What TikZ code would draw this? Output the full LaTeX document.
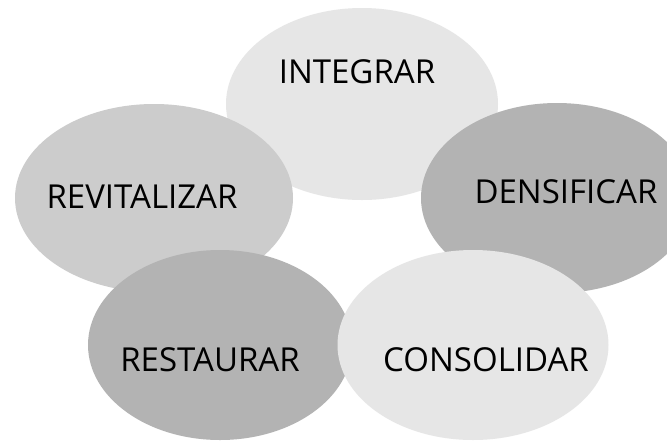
\documentclass[tikz,border=0pt]{standalone}
\usepackage{fontspec}
\setmainfont{Open Sans}
\usetikzlibrary{calc}
\usetikzlibrary{shapes.geometric}
\tikzset{
% Two styles: the grey ellipses and the words in them
blob/.style={ellipse,inner sep=0,minimum width=272,minimum height=192},
word/.style={inner sep=0,font=\fontsize{33}{36}\selectfont}
}
\definecolor{lightgrey}{HTML}{E6E6E6}
\definecolor{midgrey}{HTML}{CCCCCC}
\definecolor{darkgrey}{HTML}{B3B3B3}

\begin{document}
\begin{tikzpicture}[x=1pt,y=-1pt]
		% Page frame
		\useasboundingbox(0,0)rectangle(667,440);
		\fill[white](0,0)rectangle(667,440);
		\clip(0,0)rectangle(667,440);
		% The ellipses, back to front
		\node(integrar)[blob,fill=lightgrey]at(362,104){};
		\node(revitalizar)[blob,fill=midgrey,minimum width=278,minimum height=188]at(154,198){};
		\node(densificar)[blob,fill=darkgrey,minimum height=190]at(557,198){};
		\node(restaurar)[blob,fill=darkgrey,minimum width=264,minimum height=190]at(220,345){};
		\node(consolidar)[blob,fill=lightgrey,minimum width=271,minimum height=190]at(473,345){};
		% The words
		\node(integrar-t)[word]at($(integrar)+(-5,-32)$){INTEGRAR};
		\node(revitalizar-t)[word]at($(revitalizar)+(-12,-1)$){REVITALIZAR};
		\node(densificar-t)[word]at($(densificar)+(9,-6)$){DENSIFICAR};
		\node(restaurar-t)[word]at($(restaurar)+(-10,15)$){RESTAURAR};
		\node(consolidar-t)[word]at($(consolidar)+(13,15)$){CONSOLIDAR};
	\end{tikzpicture}
\end{document}
